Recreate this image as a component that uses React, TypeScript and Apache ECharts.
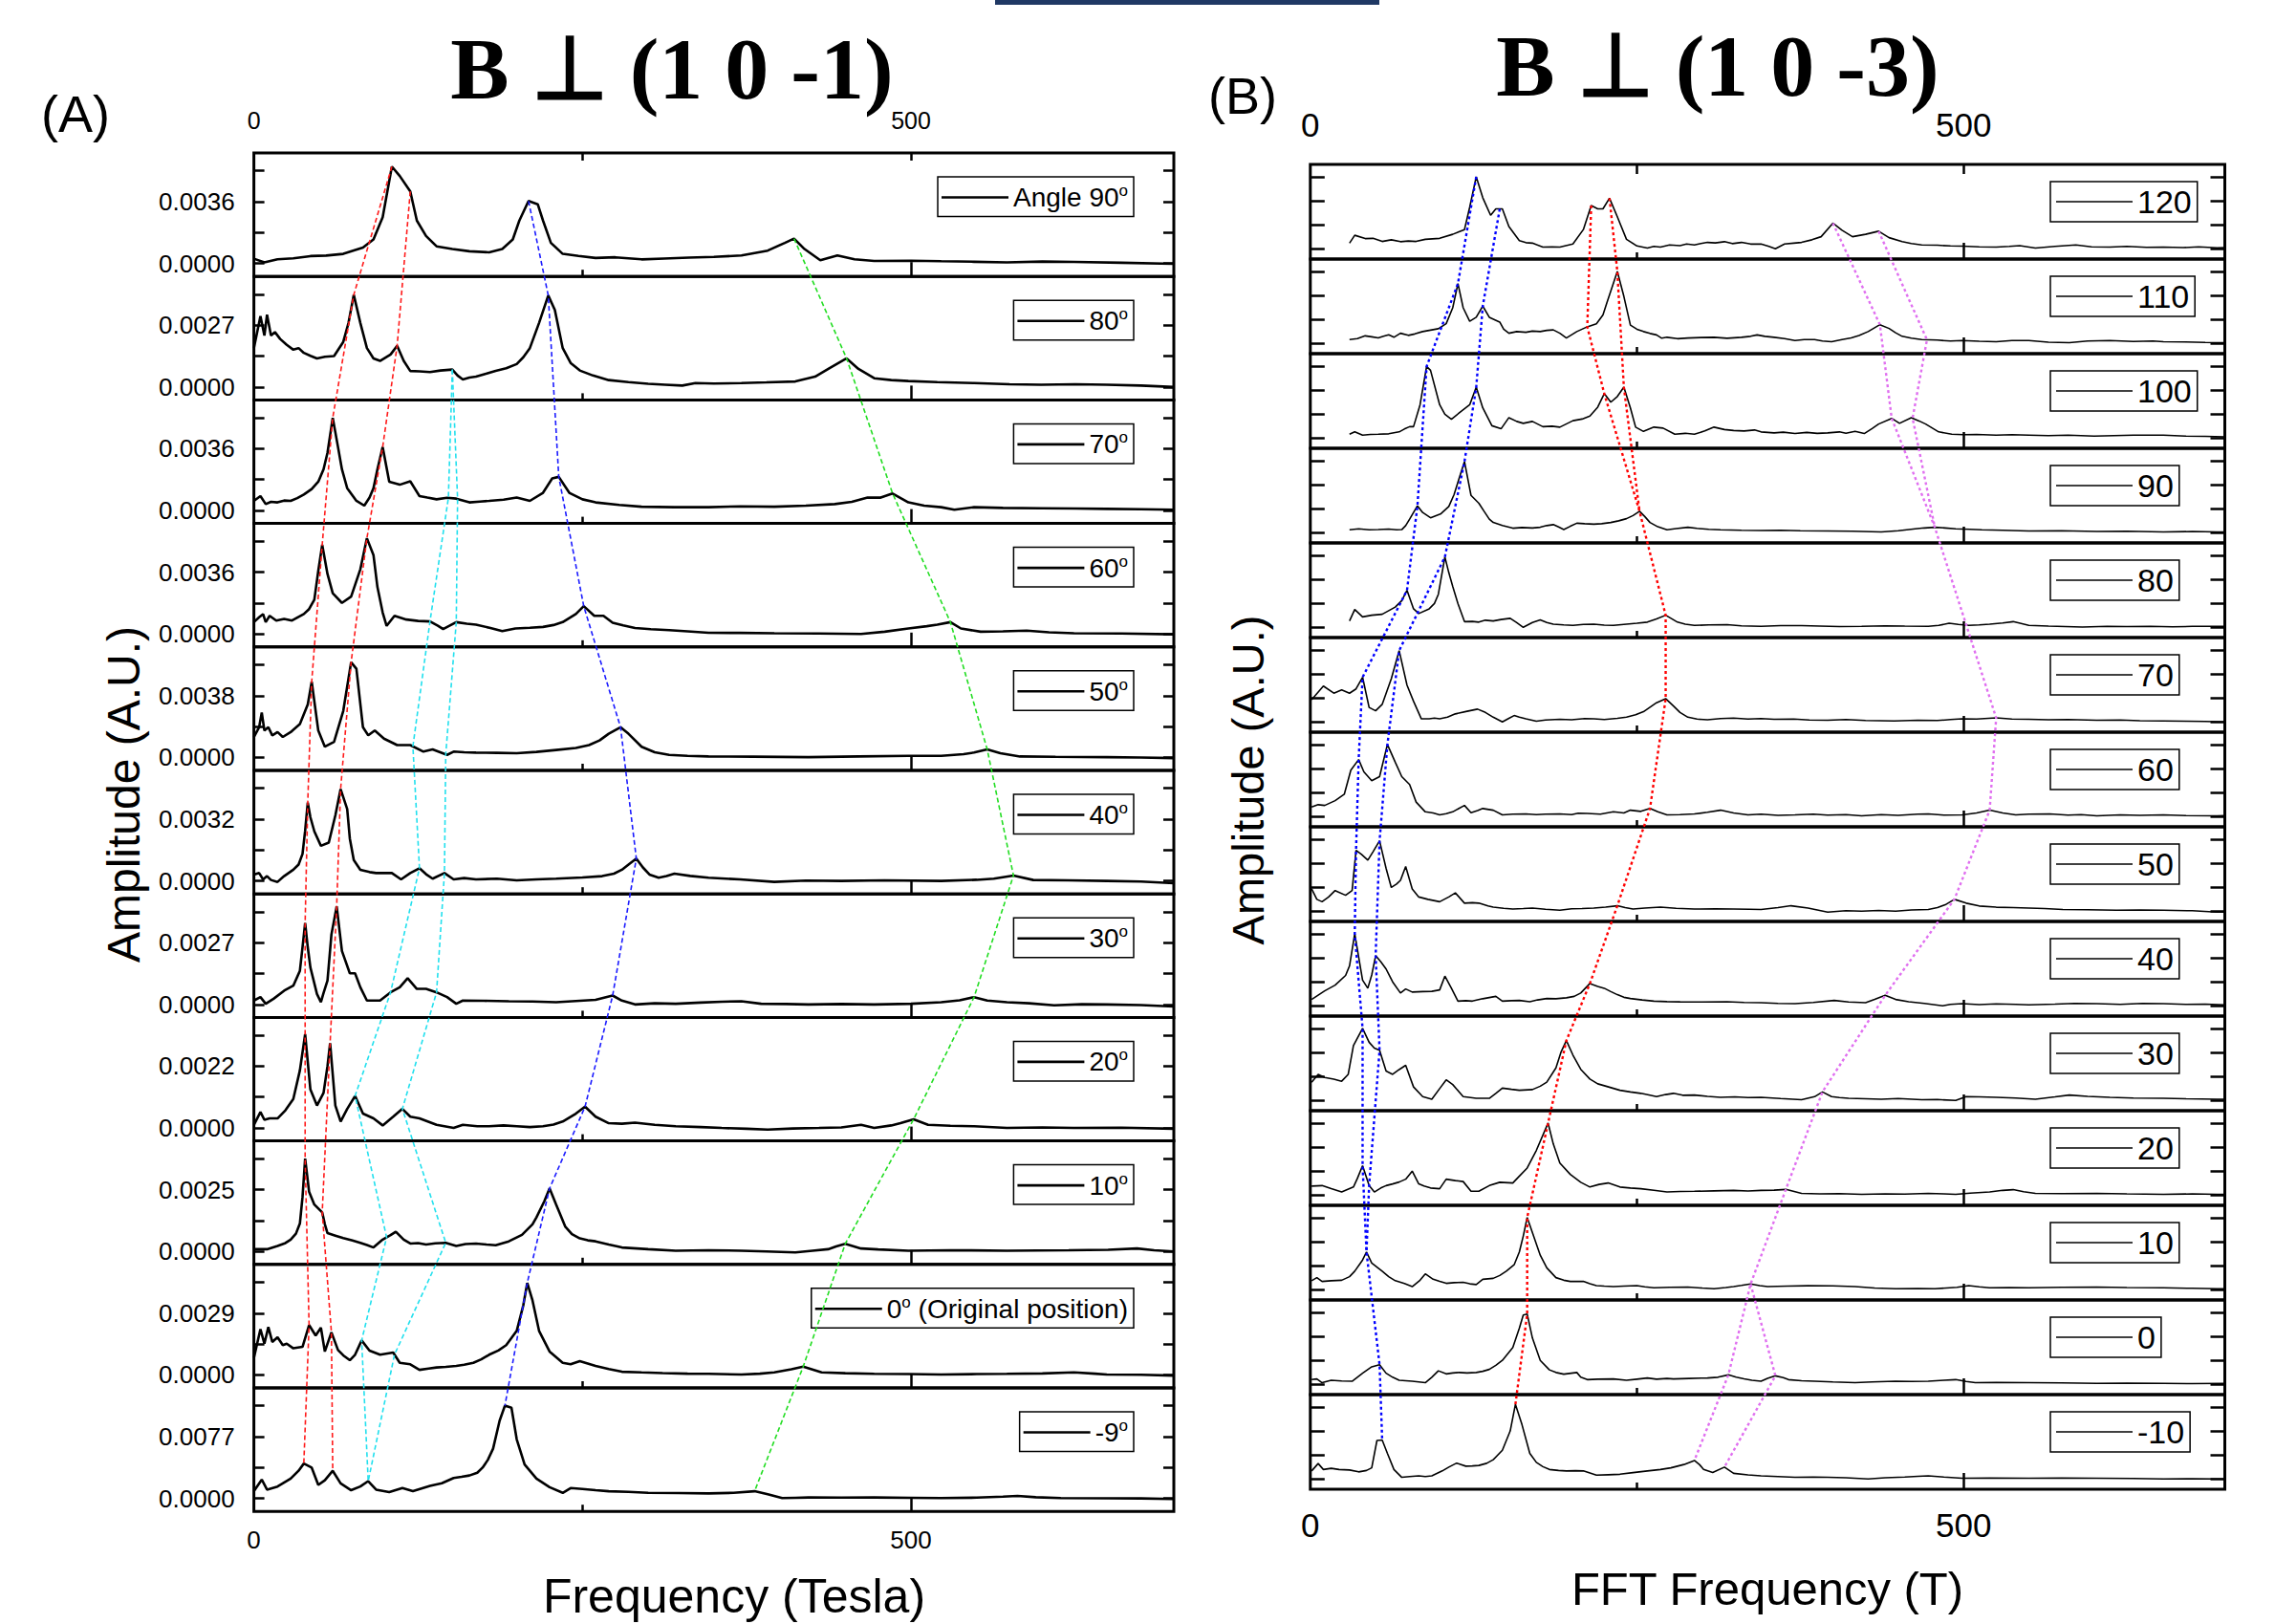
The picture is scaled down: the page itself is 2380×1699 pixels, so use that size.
import React, { useEffect, useRef } from "react";
import * as echarts from "echarts";

type Pt = [number, number];

// ================= Panel A : B ⊥ (1 0 -1) — amplitude in units of 1e-4 =================
const anglesA = ["Angle 90°", "80°", "70°", "60°", "50°", "40°", "30°", "20°", "10°", "0° (Original position)", "-9°"];
const tickValuesA = [36, 27, 36, 36, 38, 32, 27, 22, 25, 29, 77];

const ampA90: Pt[] = [[0,2.8],[8,0.6],[18,2.4],[30,3.0],[43,4.3],[55,4.6],[68,5.6],[83,9.3],[91,14],[98,27],[105,56.5],[111,51],[119,42],[124,25],[131,16],[139,10],[151,8.4],[164,7.1],[179,6.5],[189,8.4],[197,14],[202,25],[209,36.4],[216,34.5],[220,25],[226,12],[235,5.6],[247,4.4],[260,3.2],[275,3.6],[295,2.4],[312,2.9],[331,3.4],[350,3.8],[371,4.7],[391,7.5],[404,12],[411,14.5],[419,8.4],[431,1.9],[444,4.7],[457,2.4],[472,1.5],[500,1.6],[523,1.3],[548,1.0],[573,0.6],[600,1.1],[624,0.9],[660,0.4],[700,-0.2]];
const ampA80: Pt[] = [[0,17],[5,31],[8,22.5],[10,31.6],[13,22.5],[16,24],[20,21],[25,18.4],[30,16.3],[34,17],[38,14.9],[43,13.6],[48,12.5],[54,13.2],[61,13.5],[68,19.7],[72,28],[76,40.3],[81,28],[86,17],[91,12.5],[96,11.4],[104,14.2],[109,18],[114,11.4],[119,7],[126,6.8],[134,6.5],[142,7.2],[151,7.6],[155,5],[159,3.3],[164,4.1],[169,4.5],[176,5.7],[184,7],[192,8.2],[200,10],[205,13],[210,17],[217,28],[224,40],[229,33.7],[235,17],[241,10.5],[248,7.2],[258,5],[270,3],[285,2.1],[300,1.4],[313,1.0],[326,0.6],[336,1.7],[350,1.5],[371,1.7],[390,2.0],[412,2.4],[427,4.5],[439,8.6],[451,12.5],[460,7.9],[472,3.8],[485,3.0],[498,2.6],[520,2.1],[548,1.7],[575,1.2],[599,1.0],[625,1.2],[649,1.0],[675,0.6],[700,0]];
const ampA70: Pt[] = [[0,5.6],[5,8.4],[9,3.7],[13,5.0],[18,4.7],[23,5.8],[28,5.6],[33,7.2],[38,9.3],[44,12.5],[49,16.8],[53,24],[56,33.6],[60,54],[64,37],[67,24],[71,13],[78,5.6],[84,2.8],[88,7.5],[91,13],[94,24],[98,37],[103,16.8],[111,15],[119,17],[126,8.4],[132,7.5],[139,6.5],[147,7.4],[154,6.9],[164,4.7],[172,5.2],[179,5.6],[190,6.3],[200,7.5],[210,5.6],[220,10.3],[227,18.7],[232,19.6],[240,10.3],[250,6.5],[260,4.7],[278,3.2],[295,2.2],[320,1.9],[346,1.9],[370,2.4],[396,2.2],[420,2.8],[442,3.7],[455,5.0],[467,7.5],[477,7.5],[486,9.9],[498,4.7],[510,2.8],[523,1.9],[533,0.4],[548,1.9],[570,1.5],[599,1.3],[625,1.1],[649,0.9],[675,0.7],[700,0.4]];
const ampA60: Pt[] = [[0,6.9],[4,9.7],[7,11.6],[9,6.9],[12,10.6],[17,7.8],[23,8.8],[29,7.8],[33,9.5],[38,11.6],[42,14.5],[46,20],[49,36.8],[52,52],[56,35],[60,23.7],[67,18.1],[74,21.8],[81,37.7],[86,55.8],[91,46],[94,27.4],[98,12.5],[101,4.7],[107,10.6],[116,8.4],[125,7.6],[134,7.3],[140,4.8],[144,2.8],[154,6.9],[162,6.0],[169,5.4],[180,3.5],[189,1.7],[199,3.2],[210,3.6],[220,4.1],[228,5.2],[235,6.9],[245,11.6],[251,16.2],[259,10.6],[266,10.6],[273,6.5],[281,5.0],[290,3.5],[302,2.8],[316,2.2],[330,1.5],[346,0.7],[370,0.6],[396,0.4],[430,0.3],[462,0],[480,1.3],[498,3.2],[512,4.5],[520,5.4],[530,6.9],[538,3.2],[553,1.3],[570,1.5],[588,1.9],[605,1.0],[624,0.4],[660,0.3],[700,-0.2]];
const ampA50: Pt[] = [[0,12.6],[4,18.6],[6,27.6],[8,16.6],[11,18.6],[14,13.6],[18,15.6],[22,12.6],[28,15.6],[35,20.6],[41,32.6],[44,46.6],[49,16.6],[54,6.6],[61,9.6],[68,28.6],[74,58.6],[78,54.6],[83,18.6],[87,13.6],[92,16.6],[99,11.6],[109,7.6],[119,7.6],[129,3.6],[136,5],[147,1.6],[152,3.6],[160,3.2],[169,3],[185,2.8],[200,2.6],[215,3.4],[230,4.6],[245,5.8],[255,7.6],[263,10.5],[270,14.6],[279,18.6],[285,14.6],[295,6.6],[305,3.2],[316,1.6],[330,1.0],[346,0.6],[380,0.5],[422,0.2],[460,0.6],[498,1],[523,1],[540,2.0],[548,3],[558,5],[568,2.6],[583,0.6],[610,0.4],[649,0.2],[675,0],[700,-0.4]];
const ampA40: Pt[] = [[0,3.3],[4,4.1],[7,0.8],[10,2.5],[13,0.5],[18,-0.5],[23,2.5],[30,5.8],[34,8.5],[37,14],[39,26],[41,40.6],[43,33],[46,25.7],[51,18.2],[57,19.9],[62,34],[66,47.6],[71,37.3],[73,22],[76,10.8],[81,5.8],[88,4.6],[93,4.1],[105,4.1],[112,0.8],[119,4.1],[126,6.6],[131,3.5],[136,1.2],[145,4.1],[152,0.8],[160,1.5],[169,0.8],[185,1.2],[200,0.3],[215,0.8],[230,1.2],[250,1.8],[265,2.5],[274,3.8],[280,5.8],[286,9.0],[291,11.6],[296,7.0],[301,3.3],[308,1.7],[314,2.5],[320,3.8],[332,2.6],[346,1.7],[370,0.8],[396,-0.5],[420,0.2],[447,0],[480,0.3],[523,0],[550,0.6],[563,1.2],[578,2.8],[593,0.5],[620,0.3],[649,0],[675,-0.3],[700,-1.2]];
const ampA30: Pt[] = [[0,1.7],[5,3.2],[9,0.3],[15,2.5],[23,6],[30,8.2],[35,14.7],[37,25],[39,35.6],[41,25],[43,16.2],[48,4.6],[51,1],[53,5],[56,10.4],[59,30.6],[63,42.9],[67,23.4],[73,13.6],[77,13.6],[81,7.5],[86,1.7],[96,1.7],[104,5.3],[111,7.5],[117,11.5],[124,6.8],[131,6.8],[139,5.3],[147,3.2],[154,0.3],[159,1.7],[175,1.6],[194,1.4],[212,1.3],[230,1],[245,1.5],[260,2],[273,3.9],[280,1.7],[290,0],[305,0.5],[321,0.3],[340,0.8],[356,1.2],[371,1.4],[386,0.3],[405,0.2],[422,0],[447,0.2],[472,0],[500,0.3],[523,1],[537,1.8],[548,3.2],[558,1.7],[573,1],[590,0.5],[609,-0.4],[630,0.1],[649,0],[675,-0.3],[700,-0.9]];
const ampA20: Pt[] = [[0,1.1],[5,5.7],[8,2.9],[12,3.4],[18,3.4],[24,6.3],[30,10.3],[35,20.5],[39,33.4],[43,13.7],[48,8],[53,12.5],[56,22],[58,30.2],[62,8],[66,2.3],[71,6.8],[77,11.4],[83,5.1],[91,3.4],[98,0.9],[106,4],[113,6.8],[119,4],[126,3.4],[139,1.1],[152,0],[159,1.1],[170,0.6],[179,0.6],[190,0.9],[200,0.6],[210,0.3],[220,0.6],[228,1.2],[235,2.3],[245,5.1],[252,7.6],[260,4],[270,1.7],[280,1.5],[290,1.9],[305,1.1],[321,0.6],[340,0.3],[356,0],[375,-0.3],[391,-0.6],[410,-0.2],[430,0],[447,0.2],[462,1.1],[472,0],[485,0.9],[492,1.7],[502,3.1],[513,1.1],[530,0.8],[548,0.6],[573,0],[600,0.2],[624,0],[660,0.1],[700,-0.3]];
const ampA10: Pt[] = [[0,0.9],[10,0.9],[18,2.2],[24,3.4],[28,4.8],[32,7.2],[35,11.3],[37,22],[39,37.6],[42,24.2],[46,19],[52,15.8],[54,11],[56,7.4],[62,6.4],[68,5.4],[75,4.4],[81,3.5],[86,2.6],[91,1.6],[98,4.8],[104,6.6],[108,8],[114,4.8],[119,3.2],[125,3.4],[131,2.8],[138,3.3],[146,3.5],[154,2.2],[161,3.0],[169,3.2],[177,2.8],[184,2.5],[194,4.1],[204,6.7],[212,11],[215,13.8],[221,20.3],[225,25.5],[230,19],[237,10],[242,7],[248,5.3],[254,4.5],[260,4.1],[270,2.8],[280,1.6],[300,0.9],[321,0.3],[346,0.5],[371,0.3],[390,0],[412,-0.4],[425,0.3],[437,0.9],[443,2.0],[450,3.1],[462,1.2],[475,0.8],[498,0.3],[530,0.5],[573,0.3],[620,0.5],[650,0.7],[672,1.2],[685,0.5],[700,0]];
const ampA0: Pt[] = [[0,8],[5,21.5],[8,14.7],[11,22.5],[14,15.5],[18,17.7],[22,14],[25,14.7],[30,12.5],[37,13.2],[42,23.4],[47,18.5],[51,22.2],[54,11],[59,20],[64,11.7],[68,9.2],[73,6.9],[77,9.5],[82,16.2],[88,11.4],[96,9.5],[106,10.5],[111,5.7],[119,5],[126,2.4],[133,3.0],[139,3.5],[146,3.8],[154,4.2],[160,4.8],[167,5.7],[173,7.3],[179,9.5],[186,11.5],[192,14],[200,20.7],[205,32.7],[208,43.2],[212,35],[217,20.7],[225,11],[235,5.7],[241,5],[248,6.5],[260,4.2],[270,2.8],[280,1.5],[295,1.2],[311,0.9],[330,0.6],[346,0.5],[371,0.2],[385,0.6],[396,1.2],[409,2.7],[418,3.9],[432,1.2],[450,0.8],[472,0.5],[498,0.4],[523,0.2],[550,0.4],[573,0.5],[600,0.7],[624,1.2],[640,0.6],[649,0.2],[675,0.1],[700,-0.3]];
const ampAm9: Pt[] = [[0,9],[6,23.5],[10,11],[18,14.9],[28,24.7],[34,34.5],[38,43.5],[44,38.4],[49,16.9],[54,22.7],[60,34.5],[66,18.8],[74,10.2],[81,14.9],[87,21.6],[93,11],[103,7.8],[113,12.9],[121,9],[134,15.7],[143,19],[152,25.5],[158,27],[164,28.6],[170,32],[174,38.4],[178,48],[182,62],[187,97],[191,115.7],[196,113],[200,73.7],[206,42.4],[215,24.7],[225,14],[235,7],[241,12.9],[250,11.8],[260,10.2],[270,9],[285,8.2],[300,7],[323,6.8],[346,6.3],[365,7.0],[381,9],[391,5.1],[402,0.4],[412,0.8],[422,1.2],[447,1.0],[472,1.2],[500,0.8],[523,0.4],[550,1.0],[570,2.2],[581,3.1],[595,1.5],[614,0.4],[650,0.2],[675,0],[700,-0.8]];
const spectraA: Pt[][] = [ampA90, ampA80, ampA70, ampA60, ampA50, ampA40, ampA30, ampA20, ampA10, ampA0, ampAm9];

// tracked peaks: [frequency (T), spectrum index]
const trackA_red1: Pt[] = [[105,0],[76,1],[60,2],[52,3],[44,4],[41,5],[39,6],[39,7],[39,8],[42,9],[38,10]];
const trackA_red2: Pt[] = [[119,0],[109,1],[98,2],[86,3],[74,4],[66,5],[63,6],[58,7],[52,8],[59,9],[60,10]];
const trackA_blue: Pt[] = [[209,0],[224,1],[232,2],[251,3],[279,4],[291,5],[273,6],[252,7],[225,8],[208,9],[191,10]];
const trackA_green: Pt[] = [[411,0],[451,1],[486,2],[530,3],[558,4],[578,5],[548,6],[502,7],[450,8],[418,9],[381,10]];
const trackA_cyan1: Pt[] = [[151,1],[148,2],[134,3],[121,4],[126,5],[104,6],[77,7],[101,8],[82,9],[87,10]];
const trackA_cyan2: Pt[] = [[151,1],[155,2],[154,3],[146,4],[145,5],[139,6],[113,7],[146,8],[107,9],[87,10]];

// ================= Panel B : B ⊥ (1 0 -3) — amplitude in arbitrary units =================
const anglesB = ["120", "110", "100", "90", "80", "70", "60", "50", "40", "30", "20", "10", "0", "-10"];

const ampB120: Pt[] = [[30,0.24],[34,0.57],[42,0.43],[48,0.44],[55,0.31],[62,0.38],[69,0.3],[75,0.33],[81,0.31],[88,0.4],[99,0.44],[109,0.61],[118,0.81],[122,1.75],[127,3.03],[132,2.15],[138,1.41],[142,1.68],[147,1.68],[152,0.94],[160,0.34],[165,0.26],[170,0.24],[178,0.07],[185,0.08],[191,0.07],[201,0.2],[209,0.81],[215,1.82],[220,1.68],[224,1.68],[229,2.13],[235,1.35],[242,0.4],[250,0.12],[258,0.03],[263,0.1],[268,0.07],[275,0.16],[283,0.13],[288,0.2],[294,0.16],[299,0.22],[304,0.27],[310,0.25],[317,0.3],[323,0.22],[330,0.27],[337,0.2],[345,0.2],[351,0.1],[356,0],[363,0.2],[370,0.24],[376,0.27],[384,0.38],[391,0.51],[400,1.08],[407,0.78],[415,0.51],[425,0.61],[435,0.74],[443,0.47],[453,0.3],[460,0.22],[468,0.16],[480,0.15],[490,0.12],[499,0.11],[512,0.08],[525,0.07],[535,0.1],[543,0.13],[555,0.03],[570,0.1],[586,0.16],[598,0.08],[612,0.07],[625,0.1],[640,0.06],[653,0.07],[668,0.05],[680,0.08],[694,0.04],[700,0.05]];
const ampB110: Pt[] = [[30,0.16],[36,0.2],[42,0.32],[47,0.28],[52,0.23],[56,0.3],[60,0.36],[64,0.26],[69,0.43],[75,0.34],[80,0.4],[86,0.5],[93,0.57],[98,0.62],[104,0.83],[109,1.5],[113,2.52],[117,1.5],[122,0.93],[127,1.1],[132,1.57],[137,1.1],[145,0.9],[148,0.6],[152,0.43],[158,0.5],[165,0.47],[170,0.52],[176,0.5],[181,0.55],[186,0.57],[191,0.43],[196,0.23],[204,0.5],[212,0.7],[219,0.83],[224,1.2],[227,1.71],[235,3.03],[240,1.98],[245,0.77],[250,0.6],[255,0.5],[260,0.42],[265,0.36],[269,0.22],[273,0.26],[281,0.2],[289,0.23],[299,0.25],[309,0.26],[319,0.22],[330,0.26],[337,0.3],[342,0.36],[348,0.3],[355,0.26],[363,0.2],[371,0.12],[378,0.16],[386,0.16],[392,0.1],[399,0.07],[407,0.16],[414,0.23],[420,0.33],[427,0.5],[436,0.79],[443,0.63],[448,0.45],[453,0.3],[460,0.22],[468,0.16],[480,0.14],[490,0.1],[499,0.12],[512,0.09],[525,0.07],[537,0.12],[550,0.12],[565,0.05],[581,0.03],[595,0.1],[612,0.12],[630,0.08],[645,0.1],[653,0.07],[670,0.06],[685,0.04],[700,0.03]];
const ampB100: Pt[] = [[30,0.16],[34,0.26],[40,0.12],[46,0.15],[52,0.16],[60,0.18],[68,0.26],[72,0.38],[76,0.48],[79,0.48],[84,1.4],[89,3.01],[92,2.85],[99,1.4],[103,1.0],[108,0.79],[114,1.06],[122,1.4],[127,2.14],[132,1.27],[139,0.52],[146,0.39],[152,0.86],[158,0.7],[163,0.62],[170,0.7],[178,0.48],[185,0.5],[191,0.46],[201,0.73],[208,0.8],[214,0.93],[220,1.3],[225,1.87],[230,1.51],[235,1.75],[240,2.14],[245,1.27],[249,0.46],[255,0.28],[263,0.46],[270,0.42],[279,0.16],[287,0.2],[294,0.16],[302,0.3],[309,0.46],[317,0.36],[324,0.32],[332,0.3],[340,0.34],[345,0.26],[355,0.22],[362,0.25],[371,0.19],[380,0.24],[388,0.2],[396,0.22],[405,0.26],[410,0.2],[417,0.28],[424,0.19],[430,0.4],[435,0.59],[445,0.83],[451,0.62],[460,0.86],[466,0.72],[471,0.59],[481,0.26],[491,0.16],[500,0.14],[510,0.15],[525,0.12],[537,0.14],[550,0.12],[565,0.1],[580,0.12],[600,0.08],[615,0.1],[630,0.12],[653,0.12],[670,0.08],[685,0.07],[700,0.05]];
const ampB90: Pt[] = [[30,0.12],[37,0.16],[45,0.12],[52,0.13],[60,0.15],[66,0.12],[70,0.13],[73,0.3],[76,0.57],[82,1.13],[86,0.85],[92,0.63],[100,0.8],[106,1.1],[110,1.6],[114,2.3],[118,2.99],[123,1.57],[129,1.24],[133,0.9],[137,0.57],[140,0.43],[147,0.3],[155,0.19],[162,0.22],[170,0.2],[176,0.23],[181,0.3],[186,0.34],[190,0.24],[194,0.13],[199,0.27],[204,0.4],[210,0.38],[217,0.36],[223,0.38],[230,0.43],[236,0.5],[242,0.59],[247,0.72],[252,0.9],[256,0.68],[260,0.43],[266,0.25],[273,0.12],[280,0.17],[289,0.23],[296,0.18],[305,0.14],[314,0.12],[330,0.1],[345,0.09],[360,0.1],[375,0.08],[396,0.07],[415,0.06],[437,0.03],[450,0.08],[463,0.16],[470,0.2],[478,0.23],[486,0.2],[494,0.16],[505,0.14],[514,0.12],[530,0.1],[550,0.07],[575,0.08],[602,0.05],[625,0.06],[653,0.03],[675,0.05],[694,0.03],[700,0.03]];
const ampB80: Pt[] = [[30,0.27],[34,0.75],[40,0.44],[47,0.51],[55,0.55],[60,0.7],[65,0.85],[70,1.12],[74,1.56],[79,0.78],[83,0.58],[91,0.78],[95,1.0],[98,1.39],[103,2.96],[106,2.3],[109,1.72],[113,1.0],[118,0.24],[124,0.25],[129,0.22],[134,0.3],[140,0.27],[146,0.33],[153,0.38],[158,0.2],[163,0],[170,0.2],[176,0.31],[181,0.2],[186,0.13],[194,0.1],[201,0.08],[209,0.12],[217,0.13],[225,0.09],[232,0.08],[240,0.12],[250,0.17],[258,0.22],[265,0.35],[272,0.51],[277,0.35],[281,0.22],[287,0.13],[294,0.08],[305,0.1],[319,0.11],[330,0.06],[345,0.04],[360,0.07],[376,0.07],[390,0.05],[405,0.03],[422,0.04],[440,0.06],[455,0.05],[473,0.04],[481,0.08],[489,0.17],[496,0.12],[504,0.08],[512,0.1],[520,0.13],[530,0.18],[538,0.24],[544,0.16],[550,0.08],[565,0.05],[591,0.01],[610,0.04],[625,0.03],[643,0.04],[660,0.02],[675,0.04],[694,0.04],[700,0.04]];
const ampB70: Pt[] = [[1,0.94],[10,1.51],[18,1.21],[24,1.35],[30,1.21],[35,1.39],[40,1.88],[45,0.61],[50,0.47],[55,0.74],[62,1.82],[68,3.0],[74,1.55],[79,0.87],[85,0.13],[91,0.13],[95,0.16],[99,0.13],[105,0.2],[111,0.34],[120,0.45],[128,0.54],[134,0.4],[140,0.2],[147,0],[152,0.15],[156,0.27],[160,0.2],[165,0.13],[173,0.03],[180,0.08],[191,0.11],[200,0.09],[210,0.14],[217,0.13],[225,0.1],[235,0.15],[242,0.2],[249,0.3],[255,0.43],[265,0.81],[272,0.98],[278,0.67],[283,0.4],[289,0.2],[296,0.12],[304,0.09],[314,0.14],[324,0.16],[335,0.12],[345,0.14],[355,0.11],[370,0.12],[382,0.08],[396,0.07],[410,0.1],[425,0.06],[447,0.04],[465,0.07],[480,0.06],[490,0.1],[499,0.13],[510,0.12],[525,0.17],[537,0.12],[550,0.11],[565,0.09],[580,0.1],[602,0.07],[620,0.08],[635,0.05],[653,0.04],[670,0.03],[685,0.02],[700,0]];
const ampB60: Pt[] = [[1,0.4],[6,0.5],[11,0.47],[19,0.67],[26,0.94],[31,1.95],[37,2.4],[41,1.88],[47,1.51],[53,1.68],[59,3.03],[65,2.29],[70,1.68],[76,1.35],[81,0.61],[88,0.2],[94,0.15],[99,0.07],[104,0.12],[109,0.2],[118,0.47],[123,0.16],[128,0.25],[132,0.34],[140,0.27],[147,0.07],[155,0.1],[165,0.11],[173,0.08],[180,0.1],[191,0.11],[200,0.08],[205,0.14],[212,0.13],[222,0.1],[232,0.2],[240,0.15],[245,0.27],[253,0.22],[260,0.34],[266,0.2],[273,0.07],[283,0.08],[294,0.11],[304,0.18],[314,0.27],[324,0.15],[335,0.07],[345,0.1],[358,0.05],[371,0.07],[385,0.1],[396,0.06],[410,0.08],[422,0.03],[437,0.08],[450,0.05],[465,0.1],[473,0.11],[485,0.06],[499,0.07],[510,0.15],[520,0.27],[530,0.15],[540,0.07],[550,0.1],[566,0.11],[580,0.06],[590,0.08],[602,0.03],[620,0.07],[635,0.05],[653,0.07],[670,0.04],[694,0.03],[700,0.04]];
const ampB50: Pt[] = [[1,0.94],[5,0.5],[9,0.4],[14,0.6],[19,0.87],[27,0.67],[32,0.87],[35,2.56],[39,2.4],[44,2.15],[48,2.5],[53,2.96],[58,1.8],[62,1.0],[66,1.14],[69,1.3],[73,1.88],[78,0.94],[83,0.6],[90,0.5],[99,0.4],[106,0.6],[111,0.77],[118,0.34],[124,0.36],[129,0.34],[136,0.22],[140,0.17],[148,0.12],[155,0.09],[163,0.11],[170,0.13],[180,0.08],[191,0.04],[200,0.1],[208,0.11],[217,0.13],[226,0.17],[235,0.23],[241,0.15],[247,0.09],[256,0.13],[268,0.17],[280,0.12],[294,0.09],[310,0.1],[324,0.09],[336,0.08],[345,0.07],[358,0.15],[368,0.23],[381,0.13],[396,-0.04],[410,0.02],[422,0],[435,0.03],[448,0],[460,0.05],[473,0.07],[480,0.15],[486,0.27],[493,0.5],[502,0.34],[512,0.22],[525,0.17],[538,0.15],[550,0.13],[562,0.11],[576,0.07],[595,0.06],[617,0.04],[635,0.05],[653,0.04],[675,0.02],[694,-0.04],[700,-0.04]];
const ampB40: Pt[] = [[1,0.27],[6,0.45],[11,0.63],[19,0.87],[27,1.28],[30,1.68],[34,3.03],[40,1.08],[44,0.74],[47,1.3],[50,2.11],[54,1.85],[58,1.55],[63,1.01],[69,0.54],[73,0.71],[78,0.58],[86,0.6],[93,0.61],[99,0.67],[103,1.25],[108,0.74],[113,0.2],[119,0.22],[124,0.2],[132,0.3],[142,0.4],[147,0.2],[154,0.22],[160,0.23],[168,0.17],[174,0.25],[181,0.31],[188,0.3],[196,0.34],[202,0.4],[207,0.54],[214,0.94],[220,0.82],[225,0.74],[230,0.6],[235,0.47],[240,0.36],[245,0.31],[254,0.25],[263,0.2],[273,0.18],[283,0.17],[300,0.16],[319,0.17],[332,0.14],[345,0.13],[358,0.1],[371,0.09],[385,0.14],[401,0.23],[412,0.16],[425,0.13],[432,0.27],[440,0.44],[448,0.27],[458,0.17],[470,0.1],[484,0],[490,0.06],[499,0.09],[512,0.05],[525,0.08],[540,0.06],[550,0.04],[570,0.07],[585,0.1],[602,0.09],[620,0.06],[637,0.1],[653,0.09],[670,0.06],[685,0.07],[700,0.04]];
const ampB30: Pt[] = [[1,0.77],[6,1.1],[11,0.97],[18,0.9],[24,0.81],[29,1.1],[33,2.31],[40,3.03],[45,2.45],[49,2.2],[53,2.11],[58,1.24],[63,1.1],[68,1.3],[73,1.48],[79,0.57],[86,0.16],[93,0.05],[99,0.5],[104,0.87],[109,0.67],[117,0.16],[127,0.09],[137,0.09],[142,0.3],[147,0.52],[154,0.47],[160,0.43],[170,0.46],[176,0.6],[181,0.77],[188,1.37],[192,2.05],[196,2.52],[201,1.91],[207,1.31],[214,0.9],[220,0.7],[227,0.59],[237,0.43],[245,0.36],[253,0.3],[260,0.22],[265,0.16],[272,0.25],[278,0.3],[285,0.22],[294,0.23],[304,0.17],[314,0.13],[325,0.15],[335,0.12],[345,0.13],[360,0.08],[376,0.03],[386,0.16],[392,0.36],[399,0.16],[405,0.12],[412,0.09],[425,0.07],[437,0.05],[450,0.08],[468,0.03],[480,0.04],[494,0],[502,0.16],[512,0.15],[525,0.13],[540,0.1],[555,0.05],[570,0.15],[581,0.23],[595,0.17],[612,0.13],[630,0.1],[653,0.09],[670,0.07],[694,0.05],[700,0.05]];
const ampB20: Pt[] = [[1,0.38],[9,0.4],[16,0.27],[24,0.13],[33,0.34],[36,0.7],[40,1.24],[45,0.4],[49,0.13],[54,0.3],[58,0.4],[63,0.47],[68,0.55],[73,0.67],[78,1.01],[83,0.47],[87,0.38],[92,0.3],[99,0.27],[104,0.67],[111,0.61],[117,0.57],[123,0.16],[129,0.16],[137,0.4],[145,0.54],[155,0.51],[159,0.74],[166,1.14],[173,1.88],[182,3.03],[186,2.15],[191,1.35],[199,0.87],[207,0.54],[214,0.34],[221,0.45],[228,0.51],[237,0.34],[245,0.3],[253,0.27],[263,0.2],[273,0.13],[283,0.15],[294,0.16],[309,0.18],[324,0.2],[335,0.17],[345,0.2],[355,0.21],[364,0.24],[376,0.07],[390,0.05],[405,0.06],[422,0.03],[440,0.05],[455,0.04],[473,0.07],[485,0.05],[494,0.03],[505,0.08],[520,0.13],[530,0.2],[538,0.23],[546,0.14],[555,0.07],[575,0.06],[602,0.07],[625,0.05],[653,0.03],[675,0.05],[694,0.03],[700,0.03]];
const ampB10: Pt[] = [[1,0.38],[5,0.51],[9,0.35],[16,0.38],[24,0.4],[30,0.55],[34,0.78],[40,1.25],[43,1.59],[47,1.12],[55,0.78],[60,0.55],[65,0.38],[72,0.26],[78,0.13],[84,0.4],[88,0.67],[94,0.44],[99,0.35],[104,0.27],[110,0.3],[117,0.31],[122,0.25],[127,0.22],[132,0.44],[140,0.48],[145,0.6],[150,0.78],[156,1.05],[160,1.59],[163,2.26],[166,3.04],[170,2.4],[176,1.45],[181,0.92],[188,0.51],[194,0.4],[199,0.35],[209,0.35],[214,0.25],[219,0.17],[225,0.15],[232,0.13],[240,0.15],[250,0.17],[256,0.12],[263,0.08],[275,0.1],[289,0.11],[300,0.07],[309,0.04],[318,0.09],[324,0.13],[330,0.18],[337,0.24],[344,0.17],[350,0.13],[365,0.15],[381,0.17],[400,0.16],[417,0.13],[432,0.07],[448,0.04],[465,0.05],[478,0.04],[495,0.1],[504,0.17],[512,0.12],[520,0.08],[535,0.09],[550,0.08],[575,0.1],[602,0.11],[625,0.09],[653,0.08],[675,0.06],[694,0.04],[700,0.04]];
const ampB0: Pt[] = [[1,0.2],[5,0.23],[9,0.07],[16,0.17],[24,0.14],[32,0.13],[36,0.3],[40,0.47],[47,0.74],[53,0.83],[58,0.47],[63,0.3],[68,0.17],[78,0.13],[88,0.07],[93,0.3],[98,0.57],[104,0.44],[109,0.48],[114,0.5],[120,0.48],[127,0.5],[132,0.55],[137,0.63],[142,0.8],[147,1.01],[155,1.55],[160,2.36],[163,2.92],[166,2.96],[170,1.95],[176,1.01],[183,0.61],[188,0.5],[194,0.43],[204,0.5],[207,0.3],[212,0.2],[220,0.22],[232,0.23],[242,0.17],[250,0.22],[258,0.27],[265,0.22],[273,0.25],[278,0.23],[290,0.25],[304,0.27],[312,0.3],[320,0.4],[326,0.3],[332,0.23],[338,0.17],[345,0.13],[350,0.25],[356,0.36],[362,0.28],[366,0.2],[376,0.15],[386,0.13],[400,0.1],[417,0.07],[430,0.1],[448,0.13],[460,0.12],[473,0.13],[485,0.17],[494,0.2],[502,0.12],[509,0.07],[525,0.08],[550,0.07],[575,0.06],[602,0.04],[625,0.05],[653,0.04],[675,0.03],[700,0.04]];
const ampBm10: Pt[] = [[1,0.34],[6,0.65],[10,0.4],[16,0.45],[22,0.4],[30,0.38],[37,0.3],[43,0.36],[47,0.47],[51,1.62],[55,1.64],[59,1.08],[64,0.4],[70,0.07],[76,0.1],[83,0.13],[88,0.1],[93,0.13],[101,0.34],[106,0.5],[112,0.67],[119,0.54],[124,0.55],[129,0.57],[135,0.66],[140,0.81],[147,1.21],[153,2.02],[157,3.14],[162,2.29],[168,1.08],[173,0.7],[178,0.52],[183,0.4],[190,0.36],[196,0.34],[203,0.35],[209,0.34],[214,0.25],[219,0.16],[228,0.18],[237,0.2],[247,0.27],[258,0.34],[268,0.4],[276,0.47],[286,0.61],[294,0.78],[298,0.6],[301,0.4],[308,0.27],[317,0.5],[324,0.24],[335,0.17],[345,0.13],[358,0.1],[371,0.07],[385,0.08],[396,0.07],[410,0.05],[427,0],[440,0.05],[455,0.08],[465,0.11],[473,0.13],[485,0.08],[499,0.03],[520,0.04],[550,0.03],[575,0.04],[602,0.03],[630,0.02],[653,0],[675,0.01],[694,0],[700,0]];
const spectraB: Pt[][] = [ampB120, ampB110, ampB100, ampB90, ampB80, ampB70, ampB60, ampB50, ampB40, ampB30, ampB20, ampB10, ampB0, ampBm10];

const trackB_blue1: Pt[] = [[127,0],[113,1],[89,2],[82,3],[74,4],[40,5],[37,6],[35,7],[34,8],[40,9],[40,10],[43,11],[53,12],[55,13]];
const trackB_blue2: Pt[] = [[145,0],[132,1],[127,2],[118,3],[103,4],[68,5],[59,6],[53,7],[50,8],[53,9],[45,10],[43,11]];
const trackB_red1: Pt[] = [[215,0],[212,1],[225,2],[252,3],[272,4],[272,5],[260,6],[235,7],[214,8],[196,9],[182,10],[166,11],[166,12],[157,13]];
const trackB_red2: Pt[] = [[229,0],[235,1],[240,2],[252,3]];
const trackB_violet1: Pt[] = [[400,0],[436,1],[445,2],[478,3],[525,5],[520,6],[493,7],[440,8],[392,9],[364,10],[337,11],[320,12],[294,13]];
const trackB_violet2: Pt[] = [[435,0],[472,1],[461,2],[478,3]];
const trackB_violet3: Pt[] = [[337,11],[356,12],[317,13]];

const xTickLabels = [0, 500];

// ================= helpers =================
const FONT = '"Liberation Sans", Arial, Helvetica, sans-serif';

function interp(d: Pt[], x: number): number {
  for (let i = 0; i < d.length - 1; i++) {
    const [x0, y0] = d[i];
    const [x1, y1] = d[i + 1];
    if (x >= x0 && x <= x1) return x1 === x0 ? y0 : y0 + ((y1 - y0) * (x - x0)) / (x1 - x0);
  }
  return x < d[0][0] ? d[0][1] : d[d.length - 1][1];
}

function buildOption() {
  const grids: any[] = [];
  const xAxes: any[] = [];
  const yAxes: any[] = [];
  const series: any[] = [];
  const legends: any[] = [];
  const black = { color: "#000" };

  const addPanel = (p: any) => {
    const N = p.names.length;
    p.names.forEach((name: string, i: number) => {
      const gi = grids.length;
      grids.push({ left: p.left, top: p.top + i * p.h, width: p.w, height: p.h, show: true, borderColor: "#000", borderWidth: 3, backgroundColor: "transparent" });
      const last = i === N - 1;
      const baseX = { gridIndex: gi, type: "value", min: 0, max: 700, position: "bottom", axisLine: { show: false, onZero: false }, splitLine: { show: false } };
      const xi = xAxes.length;
      xAxes.push({
        ...baseX,
        axisTick: { show: true, inside: true, length: p.majorLen, customValues: [500], lineStyle: { color: "#000", width: 2.5 } },
        axisLabel: last
          ? { show: true, customValues: xTickLabels, fontSize: p.xLabelSize, margin: p.xLabelMargin, color: "#000", fontFamily: FONT }
          : { show: false },
      });
      xAxes.push({ ...baseX, axisTick: { show: true, inside: true, length: p.minorLen, customValues: [250], lineStyle: { color: "#000", width: 2.5 } }, axisLabel: { show: false } });
      if (i === 0) {
        xAxes.push({
          ...baseX,
          position: "top",
          axisTick: { show: true, inside: true, length: p.topLen, customValues: [250, 500], lineStyle: { color: "#000", width: 2.5 } },
          axisLabel: { show: true, customValues: xTickLabels, fontSize: p.topLabelSize, margin: p.topLabelMargin, color: "#000", fontFamily: FONT },
        });
      }
      const [mn, mx] = p.range(i);
      const yi = yAxes.length;
      const baseY = { gridIndex: gi, type: "value", min: mn, max: mx, axisLine: { show: false, onZero: false }, splitLine: { show: false } };
      const yTick = { show: true, inside: true, length: p.yTickLen, customValues: p.yTicks(i), lineStyle: { color: "#000", width: 2.5 } };
      yAxes.push({
        ...baseY,
        position: "left",
        axisTick: yTick,
        axisLabel: p.yLabels
          ? { show: true, customValues: p.yLabels(i), formatter: (v: number) => (v / 10000).toFixed(4), fontSize: p.yLabelSize, margin: p.yLabelMargin, color: "#000", fontFamily: FONT }
          : { show: false },
      });
      yAxes.push({ ...baseY, position: "right", axisTick: yTick, axisLabel: { show: false } });
      series.push({
        type: "line", name, xAxisIndex: xi, yAxisIndex: yi, data: p.data[i], symbol: "none", silent: true, z: 3,
        lineStyle: { color: "#000", width: p.lineWidth }, itemStyle: black,
      });
      legends.push({ data: [name], top: p.top + i * p.h + p.legendDy, ...p.legendPos, ...p.legendStyle });
    });
    // overlay grid for peak-tracking lines
    const og = grids.length;
    grids.push({ left: p.left, top: p.top, width: p.w, height: p.h * N, show: false });
    const ox = xAxes.length;
    xAxes.push({ gridIndex: og, type: "value", min: 0, max: 700, show: false });
    const oy = yAxes.length;
    yAxes.push({ gridIndex: og, type: "value", min: 0, max: N, show: false });
    p.tracks.forEach((t: any) => {
      series.push({
        type: "line", xAxisIndex: ox, yAxisIndex: oy, symbol: "none", silent: true, z: 4,
        lineStyle: { color: t.color, width: p.trackWidth, type: p.trackDash },
        data: t.pts.map(([f, k]: Pt) => {
          const [mn, mx] = p.range(k);
          const v = interp(p.data[k], f);
          return [f, N - 1 - k + (v - mn) / (mx - mn)];
        }),
      });
    });
  };

  const legendBase = { orient: "horizontal", selectedMode: false, borderColor: "#000", borderRadius: 0, icon: "rect", itemStyle: { color: "#000", borderWidth: 0 } };

  addPanel({
    names: anglesA, data: spectraA,
    range: (i: number) => [-0.21 * tickValuesA[i], 1.79 * tickValuesA[i]],
    yTicks: (i: number) => [0, tickValuesA[i] / 2, tickValuesA[i], 1.5 * tickValuesA[i]],
    yLabels: (i: number) => [0, tickValuesA[i]],
    left: 265.6, top: 160, w: 962.4, h: 129.2,
    lineWidth: 2.6, majorLen: 15, minorLen: 7, topLen: 8, yTickLen: 11,
    xLabelSize: 26, xLabelMargin: 17, topLabelSize: 25, topLabelMargin: 22, yLabelSize: 26, yLabelMargin: 20,
    trackWidth: 1.6, trackDash: [5, 3],
    legendDy: 25, legendPos: { right: 1194 },
    legendStyle: {
      ...legendBase, borderWidth: 1.5, padding: [6, 6, 6, 4], itemWidth: 70, itemHeight: 2.6, itemGap: 0,
      formatter: (name: string) => {
        const [a, b] = name.split("°");
        return `{n|${a}}{s|o}` + (b ? `{n|${b}}` : "");
      },
      textStyle: {
        fontSize: 28, color: "#000", fontFamily: FONT,
        rich: { n: { fontSize: 28, color: "#000", fontFamily: FONT, lineHeight: 31 }, s: { fontSize: 17, color: "#000", fontFamily: FONT, verticalAlign: "top", lineHeight: 17 } },
      },
    },
    tracks: [
      { pts: trackA_red1, color: "#ff1a1a" }, { pts: trackA_red2, color: "#ff1a1a" },
      { pts: trackA_blue, color: "#1a1aff" }, { pts: trackA_green, color: "#22dd22" },
      { pts: trackA_cyan1, color: "#22e0ee" }, { pts: trackA_cyan2, color: "#22e0ee" },
    ],
  });

  addPanel({
    names: anglesB, data: spectraB,
    range: () => [-0.43, 3.55],
    yTicks: () => [0, 1, 2, 3],
    yLabels: null,
    left: 1370.8, top: 172, w: 956.7, h: 99,
    lineWidth: 1.6, majorLen: 17, minorLen: 7, topLen: 10, yTickLen: 15,
    xLabelSize: 35, xLabelMargin: 20, topLabelSize: 35, topLabelMargin: 24,
    trackWidth: 2.4, trackDash: [3, 3],
    legendDy: 18, legendPos: { left: 2145 },
    legendStyle: {
      ...legendBase, borderWidth: 1.5, padding: [4, 6, 4, 6], itemWidth: 80, itemHeight: 1.6, itemGap: 0,
      textStyle: { fontSize: 34, color: "#000", fontFamily: FONT },
    },
    tracks: [
      { pts: trackB_blue1, color: "#0000ff" }, { pts: trackB_blue2, color: "#0000ff" },
      { pts: trackB_red1, color: "#ff0000" }, { pts: trackB_red2, color: "#ff0000" },
      { pts: trackB_violet1, color: "#e070f0" }, { pts: trackB_violet2, color: "#e070f0" }, { pts: trackB_violet3, color: "#e070f0" },
    ],
  });

  const txt = (text: string, x: number, y: number, font: string, rotation = 0) => ({
    type: "text", x, y, rotation, silent: true,
    style: { text, font, fill: "#000", textAlign: "center", textVerticalAlign: "middle", align: "center", verticalAlign: "middle" },
  });
  const titleFont = 'bold 92px "Liberation Serif", "Times New Roman", serif';
  const graphic = [
    { type: "rect", shape: { x: 1041, y: 0, width: 402, height: 5 }, style: { fill: "#1f3864" }, silent: true },
    txt("(A)", 79, 119, `54px ${FONT}`),
    txt("(B)", 1300, 100, `54px ${FONT}`),
    txt("B ⊥ (1 0 -1)", 703, 72, titleFont),
    txt("B ⊥ (1 0 -3)", 1797, 69, titleFont),
    txt("Amplitude (A.U.)", 129, 831, `48px ${FONT}`, Math.PI / 2),
    txt("Amplitude (A.U.)", 1305, 816, `47px ${FONT}`, Math.PI / 2),
    txt("Frequency (Tesla)", 768, 1670, `50px ${FONT}`),
    txt("FFT Frequency (T)", 1849, 1662, `49px ${FONT}`),
  ];

  return { animation: false, backgroundColor: "#fff", grid: grids, xAxis: xAxes, yAxis: yAxes, series, legend: legends, graphic };
}

export default function App() {
  const ref = useRef<HTMLDivElement>(null);
  useEffect(() => {
    if (!ref.current) return;
    const chart = echarts.init(ref.current, null, { renderer: "svg" });
    chart.setOption(buildOption() as any);
    return () => chart.dispose();
  }, []);
  return <div ref={ref} style={{ position: "absolute", left: 0, top: 0, width: 2380, height: 1699 }} />;
}
